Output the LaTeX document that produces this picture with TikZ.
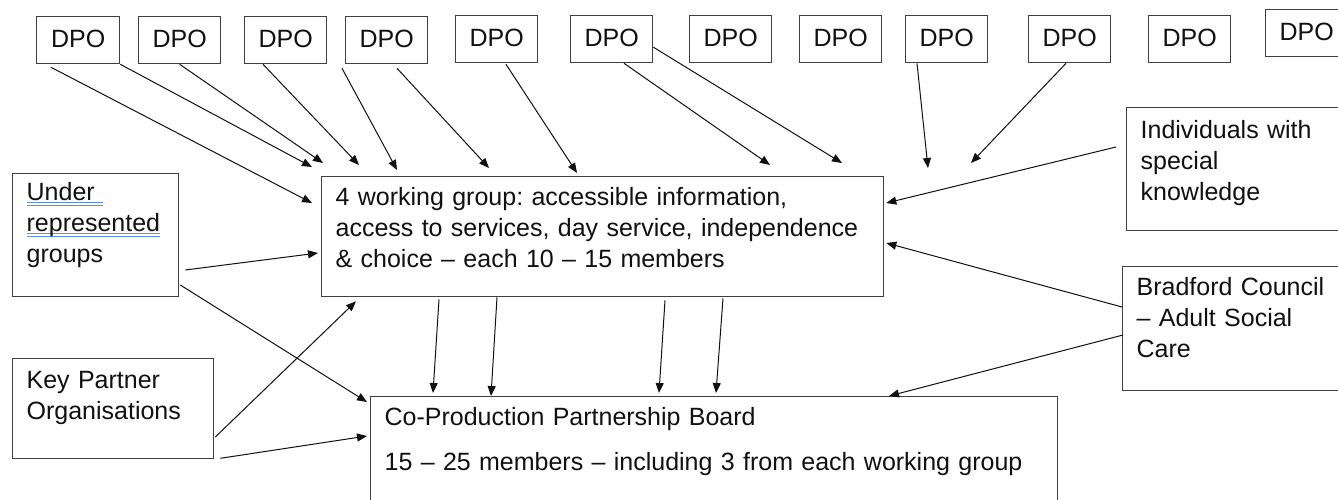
\documentclass[tikz,border=0pt]{standalone}
\usepackage{fontspec}
\setmainfont{Liberation Sans}
\usepackage{tikz}
\usetikzlibrary{calc,arrows.meta}
\definecolor{framegray}{HTML}{404040}
\definecolor{inkblack}{HTML}{111111}
\definecolor{spellblue}{HTML}{5B8EE6}
\frenchspacing

% double blue line under a word
\newcommand\spellmark[1]{\leavevmode\setbox0=\hbox{#1}\rlap{\color{spellblue}\rule[-2.6pt]{\wd0}{1pt}\hskip-\wd0\rule[-5.3pt]{\wd0}{1pt}}\box0}

\begin{document}
\begin{tikzpicture}[
  x=1pt, y=-1pt,
  font=\fontsize{25}{31}\selectfont, text=inkblack,
  box/.style={
    draw=framegray, line width=1.3pt, anchor=north west,
    inner xsep=14pt, inner ysep=0pt, align=left,
  },
  dpo/.style={
    draw=framegray, line width=1.3pt, anchor=north west,
    minimum width=82pt, inner sep=0pt, text height=31pt, text depth=16pt,
  },
  link/.style={draw=inkblack, line width=1pt, -{Triangle[length=10pt,width=8pt]}},
]
\useasboundingbox (0,0) rectangle (1338,499);
\fill[white] (0,0) rectangle (1338,499);

% row of DPOs
\node[dpo, minimum width=83pt] (d1) at (36,16) {DPO};
\node[dpo] (d2) at (138,16) {DPO};
\node[dpo] (d3) at (244,16) {DPO};
\node[dpo] (d4) at (345,16) {DPO};
\node[dpo] (d5) at (455,15) {DPO};
\node[dpo] (d6) at (570,15) {DPO};
\node[dpo] (d7) at (689,15) {DPO};
\node[dpo] (d8) at (799,15) {DPO};
\node[dpo] (d9) at (905,15) {DPO};
\node[dpo] (d10) at (1028,15) {DPO};
\node[dpo] (d11) at (1148,15) {DPO};
\node[dpo] (d12) at (1265,9) {DPO};

% main boxes
\node[box, text width=534pt, text height=29pt, text depth=91pt] (wg) at (321,176) {
  4 working group: accessible information,\\
  access to services, day service, independence\\
  \& choice – each 10 – 15 members
};
\node[box, text width=659pt, text height=29pt, text depth=105pt] (cp) at (370,396) {
  Co-Production Partnership Board\\[14pt]
  15 – 25 members – including 3 from each working group
};

% side boxes
\node[box, text width=138pt, text height=27pt, text depth=96pt] (ur) at (12,173) {
  \spellmark{Under\ }\\ \spellmark{represented}\\ groups
};
\node[box, text width=173pt, text height=30pt, text depth=70pt] (kp) at (12,358) {
  Key Partner\\ Organisations
};
\node[box, text width=200pt, text height=31pt, text depth=92pt] (ik) at (1126,107) {
  Individuals with\\ special\\ knowledge
};
\node[box, text width=200pt, text height=29pt, text depth=95pt] (bc) at (1122,266) {
  Bradford Council\\ – Adult Social\\ Care
};

% loose arrow ends
\coordinate (t1) at (312,203);
\coordinate (t2) at (312,167);
\coordinate (t3) at (323,163);
\coordinate (t4) at (359,165);
\coordinate (t5) at (397,170);
\coordinate (t6) at (489,168);
\coordinate (t7) at (577,173);
\coordinate (t8) at (770,165);
\coordinate (t9) at (842,163);
\coordinate (t10) at (928,168);
\coordinate (t11) at (971,163);
\coordinate (s1) at (1116,147);

% DPOs into the working groups
\draw[link] ($(d1.south west)+(15,3)$) -- (t1);
\draw[link] (d1.south east) -- (t2);
\draw[link] (d2.south) -- (t3);
\draw[link] ($(d3.south west)+(19,0)$) -- (t4);
\draw[link] ($(d4.south west)+(-3,4)$) -- (t5);
\draw[link] ($(d4.south west)+(52,4)$) -- (t6);
\draw[link] ($(d5.south west)+(51,1)$) -- (t7);
\draw[link] ($(d6.south west)+(54,0)$) -- (t8);
\draw[link] ($(d6.east)+(0,8)$) -- (t9);
\draw[link] ($(d9.south west)+(12,0)$) -- (t10);
\draw[link] ($(d10.south west)+(38,0)$) -- (t11);

% right hand side
\draw[link] (s1) -- ($(wg.north east)+(2,27)$);
\draw[link] ($(bc.north west)+(0,41)$) -- ($(wg.north east)+(2,67)$);
\draw[link] ($(bc.north west)+(1,69)$) -- ($(cp.north west)+(519,0)$);

% left hand side
\draw[link] ($(ur.north east)+(6,97)$) -- ($(wg.north west)+(-3,77)$);
\draw[link] ($(ur.north east)+(1,112)$) -- ($(cp.north west)+(-3,6)$);
\draw[link] ($(kp.north east)+(1,79)$) -- ($(wg.south west)+(35,4)$);
\draw[link] ($(kp.south east)+(6,-1)$) -- ($(cp.north west)+(-3,40)$);

% working groups down to the board
\draw[link] ($(wg.south west)+(118,2)$) -- ($(cp.north west)+(63,-3)$);
\draw[link] ($(wg.south west)+(176,0)$) -- ($(cp.north west)+(121,0)$);
\draw[link] ($(wg.south west)+(344,3)$) -- ($(cp.north west)+(289,-3)$);
\draw[link] ($(wg.south west)+(402,1)$) -- ($(cp.north west)+(346,-3)$);

\end{tikzpicture}
\end{document}
